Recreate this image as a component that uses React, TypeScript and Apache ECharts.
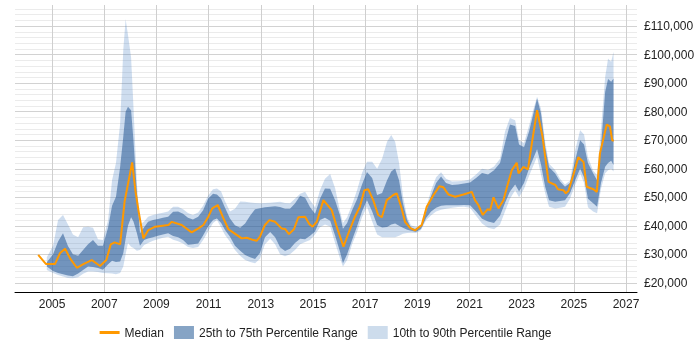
import React, { useEffect, useRef } from "react";
import * as echarts from "echarts";

const medianYears = [
  2004.47, 2004.77, 2005.11, 2005.31, 2005.5, 2005.69, 2005.95, 2006.2, 2006.52, 2006.84,
  2007.08, 2007.25, 2007.4, 2007.61, 2007.78, 2008.07, 2008.2, 2008.32, 2008.5, 2008.69,
  2008.95, 2009.46, 2009.59, 2009.97, 2010.35, 2010.61, 2010.8, 2010.99, 2011.14, 2011.35,
  2011.57, 2011.76, 2011.95, 2012.27, 2012.46, 2012.72, 2012.85, 2012.97, 2013.16, 2013.33,
  2013.55, 2013.8, 2013.93, 2014.08, 2014.27, 2014.44, 2014.7, 2014.86, 2014.99, 2015.15,
  2015.4, 2015.72, 2015.91, 2016.17, 2016.36, 2016.61, 2016.8, 2016.97, 2017.12, 2017.31,
  2017.5, 2017.64, 2017.83, 2018.08, 2018.21, 2018.38, 2018.53, 2018.72, 2018.91, 2019.17,
  2019.36, 2019.62, 2019.85, 2020.0, 2020.19, 2020.45, 2020.77, 2021.09, 2021.21, 2021.34,
  2021.51, 2021.69, 2021.79, 2021.92, 2022.11, 2022.3, 2022.45, 2022.62, 2022.81, 2022.88,
  2023.07, 2023.24, 2023.39, 2023.59, 2023.8, 2024.03, 2024.29, 2024.39, 2024.6, 2024.69,
  2024.79, 2024.98, 2025.17, 2025.37, 2025.49, 2025.75, 2025.88, 2026.0, 2026.26, 2026.38,
  2026.47, 2026.53,
];
const medianValues = [
  29800, 26600, 26600, 30500, 32000, 28600, 25300, 26600, 28000, 25900,
  28000, 33500, 34200, 33500, 48500, 62200, 52000, 45000, 35600, 38500,
  39700, 40300, 41400, 40300, 37700, 39100, 40300, 43200, 46100, 47300,
  42600, 38800, 37600, 35600, 35800, 35000, 34800, 36200, 40300, 42000,
  41400, 39100, 38900, 37100, 38800, 43000, 43200, 40600, 39700, 41500,
  49000, 45500, 39700, 32700, 37400, 43200, 46700, 52500, 52800, 49000,
  43800, 43000, 49000, 50800, 51400, 46700, 41400, 39300, 38400, 40300,
  46700, 50800, 53900, 53500, 51000, 50200, 51000, 51900, 49000, 47300,
  43800, 45800, 45500, 50000, 46100, 49000, 54000, 59500, 62100, 58400,
  60700, 59800, 68900, 80500, 71200, 55400, 54300, 52800, 52500, 51400,
  52200, 57800, 64000, 62400, 53700, 52800, 51900, 65400, 75500, 74900,
  70000, 69800,
];

const bandYears = [
  2004.8, 2005.04, 2005.23, 2005.42, 2005.61, 2005.8, 2006.0, 2006.19, 2006.38, 2006.57,
  2006.76, 2006.95, 2007.15, 2007.3, 2007.45, 2007.61, 2007.73, 2007.82, 2007.91, 2008.03,
  2008.12, 2008.25, 2008.37, 2008.53, 2008.68, 2008.87, 2009.06, 2009.25, 2009.45, 2009.64,
  2009.83, 2010.02, 2010.21, 2010.4, 2010.6, 2010.79, 2010.98, 2011.17, 2011.32, 2011.48,
  2011.63, 2011.82, 2012.01, 2012.21, 2012.4, 2012.59, 2012.78, 2012.97, 2013.16, 2013.36,
  2013.55, 2013.74, 2013.93, 2014.12, 2014.31, 2014.51, 2014.7, 2014.89, 2015.08, 2015.27,
  2015.46, 2015.66, 2015.85, 2016.04, 2016.15, 2016.31, 2016.5, 2016.69, 2016.88, 2017.07,
  2017.27, 2017.46, 2017.65, 2017.84, 2018.0, 2018.15, 2018.3, 2018.45, 2018.61, 2018.76,
  2018.95, 2019.14, 2019.34, 2019.53, 2019.72, 2019.91, 2020.1, 2020.33, 2020.56, 2020.79,
  2021.02, 2021.25, 2021.48, 2021.71, 2021.94, 2022.17, 2022.36, 2022.55, 2022.75, 2022.9,
  2023.09, 2023.28, 2023.44, 2023.59, 2023.74, 2023.9, 2024.05, 2024.28, 2024.47, 2024.66,
  2024.85, 2025.05, 2025.24, 2025.39, 2025.54, 2025.74, 2025.89, 2026.04, 2026.2, 2026.31,
  2026.43, 2026.52,
];
const p10 = [
  24500, 23500, 22800, 22200, 21700, 21600, 22000, 23200, 24000, 24000,
  23800, 23500, 23400, 23300, 23000, 23500, 25700, 30000, 34000, 32700,
  32200, 31300, 31500, 33300, 34000, 34800, 35300, 35800, 36200, 35100,
  34600, 33800, 32600, 32200, 32600, 35000, 38000, 41000, 42000, 39400,
  36800, 34400, 31500, 29500, 28000, 27300, 26900, 28500, 33500, 35500,
  33500, 30000, 29300, 30000, 31500, 33500, 34300, 35000, 37000, 39500,
  40500, 39800, 34000, 28500, 25700, 28000, 33500, 37800, 43000, 46700,
  41500, 37000, 36000, 36000, 36000, 36000, 36500, 37200, 37500, 37600,
  37500, 38500, 42000, 43700, 45000, 45600, 46000, 46300, 46600, 46700,
  46300, 43500, 40800, 39300, 38800, 40500, 45000, 49500, 52500, 50000,
  53000, 57500, 61000, 64200, 58000, 51400, 46700, 46100, 46300, 46700,
  49500, 54300, 58400, 55000, 46500, 45000, 44400, 53000, 58400, 59500,
  60000, 59000,
];
const p25 = [
  25700, 24200, 23500, 23000, 22600, 22300, 23300, 24500, 25700, 25600,
  25200, 24600, 26500, 27800, 27300, 27500, 30400, 35500, 40000, 43000,
  41500, 37500, 33000, 35000, 35600, 36000, 36500, 37000, 37400, 36400,
  36000, 35000, 33400, 33500, 33800, 36600, 39800, 42000, 42600, 41000,
  38500, 36200, 33000, 31300, 29800, 29000, 28400, 30500, 36000, 37800,
  36000, 32500, 31200, 32000, 34000, 35500, 35300, 36500, 38000, 42000,
  42800, 41800, 36500, 30800, 26900, 30000, 35000, 39800, 45000, 49000,
  45000, 40300, 39400, 39600, 40500, 40800, 40000, 39300, 38600, 38300,
  37900, 38900, 42800, 45000, 46300, 47000, 47200, 47200, 47200, 47300,
  47200, 45000, 42500, 41500, 41000, 43500, 48000, 52000, 54500, 52000,
  55000, 60000, 63500, 66800, 61500, 53700, 49000, 48400, 48700, 49000,
  51400, 56000, 60100, 57000, 49500, 47900, 46700, 55000, 60700, 62000,
  62800, 61300,
];
const p75 = [
  27200, 30000, 34500, 37400, 32900, 30000, 29500, 31500, 33500, 35000,
  33000, 33000, 39500, 47000, 50200, 60700, 71200, 80000, 81700, 80500,
  70000, 52000, 37400, 39500, 41400, 42000, 42400, 42800, 43200, 44900,
  45000, 44200, 42800, 42200, 43200, 45500, 49500, 51200, 51000, 49500,
  46300, 42600, 40200, 39300, 40800, 43500, 45800, 46200, 46500, 46700,
  46900, 46600, 46000, 46000, 47800, 50500, 49800, 46500, 44200, 49500,
  53100, 53000, 49000, 43600, 39000, 41000, 45500, 49300, 54500, 58900,
  56800, 50800, 51500, 56000, 59000, 60100, 56000, 47900, 42000, 39300,
  38800, 40000, 45000, 50500, 55000, 57300, 55000, 54300, 54500, 54800,
  55200, 56800, 58500, 58000, 59500, 62000, 69000, 75500, 75000, 68500,
  67500, 73000, 79000, 84600, 79500, 67700, 60500, 58400, 55500, 53700,
  55000, 63000, 70000, 68500, 62000, 58400, 56000, 68000, 87000, 91500,
  90500, 91600,
];
const p90 = [
  29000, 33000, 42000, 43800, 40500, 37000, 36000, 39500, 39700, 39300,
  35300, 35000, 42000, 56000, 62000, 75900, 101600, 112400, 107000, 99000,
  81700, 55000, 40500, 41500, 43200, 43800, 44200, 44600, 45000, 46700,
  46700, 45800, 44500, 43800, 44700, 47000, 50500, 52800, 53100, 52000,
  48600, 45000, 46000, 48500, 48400, 48200, 48000, 47900, 48000, 48100,
  48300, 48400, 48000, 47900, 49500, 51200, 51900, 49000, 46500, 52500,
  56500, 58200, 53200, 45000, 41000, 43000, 47500, 52500, 58500, 62500,
  62500, 60000, 63500, 69500, 71800, 69500, 62000, 50500, 43000, 40200,
  39500, 40500, 46500, 52500, 57000, 58800, 56500, 55500, 55600, 55800,
  56200, 58000, 60000, 59600, 60800, 63500, 73000, 77800, 77000, 70000,
  69000, 75000, 80500, 85200, 81000, 69500, 61800, 59600, 56500, 54500,
  55800, 66500, 73500, 72000, 64000, 59300, 57800, 74000, 92200, 98600,
  97500, 101000,
];

const xTickYears = [2005, 2007, 2009, 2011, 2013, 2015, 2017, 2019, 2021, 2023, 2025, 2027];
const yTickValues = [20000, 30000, 40000, 50000, 60000, 70000, 80000, 90000, 100000, 110000];
const yGridValues = Array.from({ length: 49 }, (_, i) => 20000 + i * 2000);

const FONT = "'Liberation Sans', Arial, Helvetica, sans-serif";
const LIGHT_FILL = "rgba(60,120,190,0.25)";
const DARK_FILL = "rgba(40,90,150,0.55)";

function bandSeries(name: string, lo: number[], hi: number[], fill: string, legendColor: string) {
  return {
    name,
    type: "custom",
    coordinateSystem: "cartesian2d",
    silent: true,
    clip: true,
    itemStyle: { color: legendColor },
    data: [[bandYears[0], lo[0]]],
    renderItem: (_params: any, api: any) => {
      const upper = bandYears.map((y, i) => api.coord([y, hi[i]]));
      const lower = bandYears.map((y, i) => api.coord([y, lo[i]])).reverse();
      return {
        type: "polygon",
        shape: { points: upper.concat(lower) },
        style: { fill, stroke: "none" },
      };
    },
  };
}

export default function App() {
  const ref = useRef<HTMLDivElement>(null);
  useEffect(() => {
    if (!ref.current) return;
    const chart = echarts.init(ref.current, null, { renderer: "svg" });
    const fmt = (v: number) => "£" + String(v).replace(/\B(?=(\d{3})+(?!\d))/g, ",");
    chart.setOption({
      animation: false,
      textStyle: { fontFamily: FONT },
      grid: { left: 15, right: 63, top: 5, bottom: 57.7, containLabel: false },
      legend: {
        left: 94.6,
        top: 321,
        itemWidth: 20,
        itemHeight: 13,
        itemGap: 10,
        selectedMode: false,
        textStyle: { color: "#222", fontSize: 12, fontFamily: FONT },
        data: [
          { name: "Median", icon: "path://M0,0H20V3H0Z", itemStyle: { color: "#ff9900", borderWidth: 0 } },
          { name: "25th to 75th Percentile Range", icon: "rect", itemStyle: { color: "#86a4c5", borderWidth: 0 } },
          { name: "10th to 90th Percentile Range", icon: "rect", itemStyle: { color: "#cddcec", borderWidth: 0 } },
        ],
      },
      xAxis: {
        type: "value",
        min: 2003.58,
        max: 2027.42,
        axisLine: { show: true, onZero: false, lineStyle: { color: "#000", width: 1 } },
        axisTick: { show: false, customValues: xTickYears },
        axisLabel: {
          customValues: xTickYears,
          formatter: (v: number) => String(v),
          color: "#222",
          fontSize: 12,
          margin: 6,
        },
        splitLine: { show: true, lineStyle: { color: "#cfcfcf", width: 1 } },
      },
      yAxis: {
        type: "value",
        position: "right",
        min: 16700,
        max: 117400,
        axisLine: { show: false },
        axisTick: { show: false, customValues: yGridValues },
        axisLabel: { customValues: yTickValues, formatter: fmt, margin: 7, color: "#222", fontSize: 12 },
        splitLine: {
          show: true,
          lineStyle: { color: ["#d2d2d2", "#ebebeb", "#ebebeb", "#ebebeb", "#ebebeb"], width: 1 },
        },
      },
      series: [
        bandSeries("10th to 90th Percentile Range", p10, p90, LIGHT_FILL, "#cddcec"),
        bandSeries("25th to 75th Percentile Range", p25, p75, DARK_FILL, "#86a4c5"),
        {
          name: "Median",
          type: "line",
          data: medianYears.map((y, i) => [y, medianValues[i]]),
          symbol: "none",
          silent: true,
          itemStyle: { color: "#ff9900" },
          lineStyle: { color: "#ff9900", width: 2 },
        },
      ],
    });
    return () => chart.dispose();
  }, []);
  return (
    <div
      ref={ref}
      style={{ position: "fixed", left: 0, top: 0, width: 700, height: 350 }}
    />
  );
}
